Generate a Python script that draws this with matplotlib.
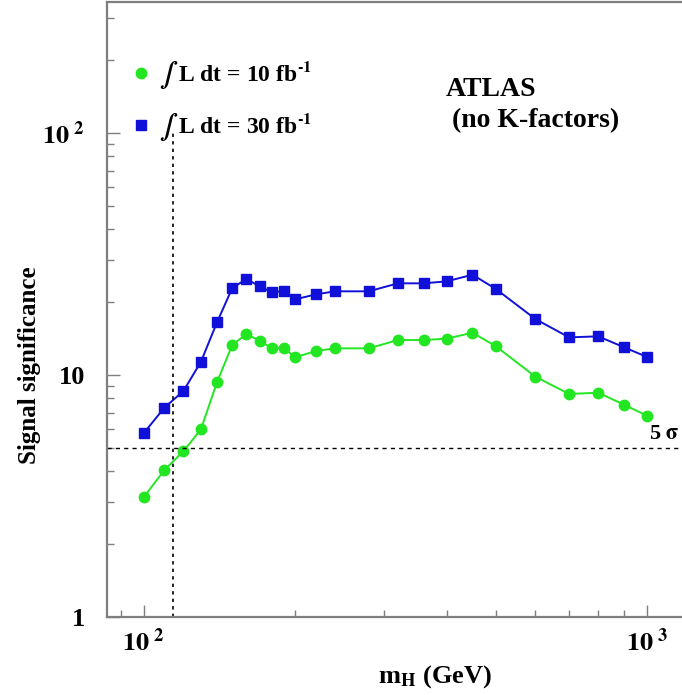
import numpy as np
import matplotlib
matplotlib.use('Agg')
import matplotlib.pyplot as plt
from matplotlib.lines import Line2D
from matplotlib.ticker import FixedLocator, FixedFormatter, LogLocator, NullFormatter

plt.rcParams['font.family'] = ['Liberation Serif', 'DejaVu Serif']
plt.rcParams['font.weight'] = 'bold'
plt.rcParams['mathtext.fontset'] = 'stix'
plt.rcParams['mathtext.default'] = 'bf'

# Higgs mass points (GeV)
m_h = [100, 110, 120, 130, 140, 150, 160, 170, 180, 190, 200, 220, 240, 280,
       320, 360, 400, 450, 500, 600, 700, 800, 900, 1000]

# significance for 10 fb^-1
sig_10 = [3.12, 4.05, 4.84, 5.97, 9.38, 13.3, 14.77, 13.86, 12.89, 12.89, 11.84, 12.57,
          12.89, 12.89, 13.95, 13.95, 14.13, 14.96, 13.18, 9.84, 8.35, 8.45, 7.54, 6.79]

# significance for 30 fb^-1
sig_30 = [5.74, 7.33, 8.59, 11.35, 16.56, 22.88, 24.93, 23.26, 21.96, 22.24, 20.55, 21.55,
          22.18, 22.18, 23.93, 23.93, 24.39, 25.97, 22.73, 17.03, 14.31, 14.45, 13.02, 11.87]

lep_limit = 114.4
five_sigma = 5

green = '#22e622'
blue = '#1010d8'
spine_col = '#7f7f7f'

fig = plt.figure(figsize=(6.82, 6.95), dpi=100)
ax = fig.add_axes([107 / 682, 78 / 695, 575 / 682, 615 / 695])

ax.plot(m_h, sig_10, color=green, marker='o', markersize=7.5, lw=1.4)
ax.plot(m_h, sig_30, color=blue, marker='s', markersize=7, lw=1.4)

# reference lines
ax.axhline(five_sigma, color='black', ls=(0, (3, 3)), lw=1)
ax.vlines(lep_limit, 1, 100, color='black', ls=(0, (2, 2.5)), lw=1.2)

ax.set_xscale('log')
ax.set_yscale('log')
ax.set_xlim(84.6, 1173)
ax.set_ylim(1, 348)

for s in ['left', 'bottom', 'top']:
    ax.spines[s].set_color(spine_col)
    ax.spines[s].set_linewidth(1.6)
ax.spines['right'].set_visible(False)

ax.xaxis.set_major_locator(FixedLocator([100, 1000]))
ax.xaxis.set_major_formatter(FixedFormatter([r'$10^{\ 2}$', r'$10^{\ 3}$']))
ax.xaxis.set_minor_locator(LogLocator(base=10, subs=np.arange(2, 10)))
ax.xaxis.set_minor_formatter(NullFormatter())
ax.yaxis.set_major_locator(FixedLocator([1, 10, 100]))
ax.yaxis.set_major_formatter(FixedFormatter(['1', '10', r'$10^{\ 2}$']))
ax.yaxis.set_minor_locator(LogLocator(base=10, subs=np.arange(2, 10)))
ax.yaxis.set_minor_formatter(NullFormatter())

ax.tick_params(which='both', direction='in', color=spine_col, top=False, right=False)
ax.tick_params(which='major', length=9, width=1, labelsize=19, pad=8)
ax.tick_params(which='minor', length=5, width=1)
ax.tick_params(axis='y', which='major', pad=16)

ax.set_xlabel(r'm$_{\mathrm{H}}$ (GeV)', fontsize=19, fontweight='bold')
ax.xaxis.set_label_coords(0.57, -0.075)
ax.set_ylabel('Signal significance', fontsize=18, fontweight='bold')
ax.yaxis.set_label_coords(-0.115, 0.41)

handles = [Line2D([], [], ls='none', marker='o', color=green, markersize=7.5),
           Line2D([], [], ls='none', marker='s', color=blue, markersize=7)]
labels = [r'$\int\ $L dt = 10 fb$^{\text{-1}}$', r'$\int\ $L dt = 30 fb$^{\text{-1}}$']
ax.legend(handles, labels, loc='upper left', bbox_to_anchor=(0.005, 0.942),
          frameon=False, fontsize=17, handlelength=0.8, handletextpad=0.4,
          labelspacing=0.85)

ax.text(0.589, 0.847, 'ATLAS', transform=ax.transAxes, fontsize=20,
        fontweight='bold', va='baseline')
ax.text(0.600, 0.797, '(no K-factors)', transform=ax.transAxes, fontsize=20,
        fontweight='bold', va='baseline')
ax.annotate(r'5 $\sigma$', xy=(0.943, five_sigma), xycoords=('axes fraction', 'data'),
            xytext=(0, 3), textcoords='offset points', fontsize=16,
            fontweight='bold', va='bottom')

fig.savefig('out.png', dpi=100)
